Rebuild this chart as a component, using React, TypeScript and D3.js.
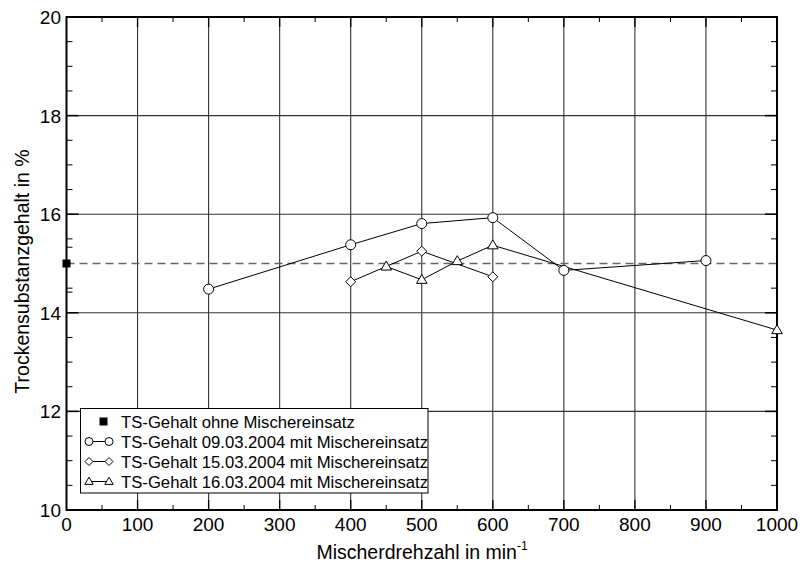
import React from "react";
import * as d3 from "d3";

const xTicks = [0, 100, 200, 300, 400, 500, 600, 700, 800, 900, 1000];
const yTicks = [10, 12, 14, 16, 18, 20];
const yMinor = [10.5, 11, 11.5, 12.5, 13, 13.5, 14.5, 15, 15.5, 16.5, 17, 17.5, 18.5, 19, 19.5];
const yExtraLeft = [15.33, 14.42];
const xMinor = [50, 150, 250, 350, 450, 550, 650, 750, 850, 950];

const refX = [0];
const refY = [15.0];
const s1X = [200, 400, 500, 600, 700, 900];
const s1Y = [14.48, 15.38, 15.81, 15.93, 14.86, 15.06];
const s2X = [400, 500, 600];
const s2Y = [14.63, 15.25, 14.73];
const s3X = [450, 500, 550, 600, 1000];
const s3Y = [14.94, 14.67, 15.05, 15.37, 13.65];

const legendLabels = [
  "TS-Gehalt ohne Mischereinsatz",
  "TS-Gehalt 09.03.2004 mit Mischereinsatz",
  "TS-Gehalt 15.03.2004 mit Mischereinsatz",
  "TS-Gehalt 16.03.2004 mit Mischereinsatz",
];

const FONT = "'Liberation Sans', Arial, Helvetica, sans-serif";

function Marker({ type, x, y, s }: { type: string; x: number; y: number; s: number }) {
  if (type === "circle") return <circle cx={x} cy={y} r={s} fill="#fff" stroke="#000" strokeWidth={1} />;
  if (type === "diamond")
    return (
      <path
        d={`M${x},${y - s}L${x + s},${y}L${x},${y + s}L${x - s},${y}Z`}
        fill="#fff"
        stroke="#000"
        strokeWidth={1}
      />
    );
  if (type === "triangle") {
    const h = s * 1.8;
    return (
      <path
        d={`M${x},${y - h * 0.6}L${x + s * 1.05},${y + h * 0.4}L${x - s * 1.05},${y + h * 0.4}Z`}
        fill="#fff"
        stroke="#000"
        strokeWidth={1}
      />
    );
  }
  return <rect x={x - s} y={y - s} width={2 * s} height={2 * s} fill="#000" />;
}

export default function App() {
  const x = d3.scaleLinear().domain([0, 1000]).range([66.5, 777]);
  const y = d3.scaleLinear().domain([10, 20]).range([510, 17]);
  const line = d3
    .line<[number, number]>()
    .x((d) => x(d[0]))
    .y((d) => y(d[1]));
  const zip = (a: number[], b: number[]) => a.map((v, i) => [v, b[i]] as [number, number]);
  const series = [
    { type: "circle", xs: s1X, ys: s1Y },
    { type: "diamond", xs: s2X, ys: s2Y },
    { type: "triangle", xs: s3X, ys: s3Y },
  ];
  const x0 = x(0), x1 = x(1000), y0 = y(10), y1 = y(20);
  const lgX = 80.5, lgY = 408.5, lgW = 347.5, lgH = 84.5;
  const rowY = (i: number) => 421.5 + i * 20;
  const lgTypes = ["square", "circle", "diamond", "triangle"];

  return (
    <svg
      width={800}
      height={562}
      style={{ position: "absolute", left: 0, top: 0, background: "#fff" }}
      fontFamily={FONT}
    >
      <rect x={0} y={0} width={800} height={562} fill="#fff" />
      {/* grid */}
      {xTicks.slice(1, -1).map((t) => (
        <line key={"gx" + t} x1={x(t)} x2={x(t)} y1={y1} y2={y0} stroke="#333" strokeWidth={1.1} />
      ))}
      {yTicks.slice(1, -1).map((t) => (
        <line key={"gy" + t} x1={x0} x2={x1} y1={y(t)} y2={y(t)} stroke="#333" strokeWidth={1.1} />
      ))}
      {/* minor ticks x */}
      {xMinor.map((t) => (
        <g key={"mx" + t}>
          <line x1={x(t)} x2={x(t)} y1={y0} y2={y0 - 5} stroke="#000" />
          <line x1={x(t)} x2={x(t)} y1={y1} y2={y1 + 5} stroke="#000" />
        </g>
      ))}
      {xTicks.slice(1, -1).map((t) => (
        <g key={"Mx" + t}>
          <line x1={x(t)} x2={x(t)} y1={y0} y2={y0 - 10} stroke="#000" strokeWidth={1.3} />
          <line x1={x(t)} x2={x(t)} y1={y1} y2={y1 + 10} stroke="#000" strokeWidth={1.3} />
        </g>
      ))}
      {/* minor ticks y */}
      {yMinor.map((t) => (
        <g key={"my" + t}>
          <line x1={x0} x2={x0 + 6} y1={y(t)} y2={y(t)} stroke="#000" />
          <line x1={x1} x2={x1 - 6} y1={y(t)} y2={y(t)} stroke="#000" />
        </g>
      ))}
      {yExtraLeft.map((t) => (
        <line key={"ey" + t} x1={x0} x2={x0 + 6} y1={y(t)} y2={y(t)} stroke="#000" />
      ))}
      {yTicks.slice(1, -1).map((t) => (
        <g key={"My" + t}>
          <line x1={x0} x2={x0 + 12} y1={y(t)} y2={y(t)} stroke="#000" strokeWidth={1.5} />
          <line x1={x1} x2={x1 - 12} y1={y(t)} y2={y(t)} stroke="#000" strokeWidth={1.5} />
        </g>
      ))}
      {/* reference dashed line */}
      <line
        x1={x0}
        x2={x1}
        y1={y(refY[0])}
        y2={y(refY[0])}
        stroke="#666"
        strokeWidth={1.6}
        strokeDasharray="8,5"
      />
      {/* series lines */}
      {series.map((s) => (
        <path key={"l" + s.type} d={line(zip(s.xs, s.ys)) || ""} fill="none" stroke="#000" strokeWidth={1} />
      ))}
      {/* frame */}
      <rect x={x0} y={y1} width={x1 - x0} height={y0 - y1} fill="none" stroke="#000" strokeWidth={2} />
      {/* markers */}
      {series.map((s) =>
        s.xs.map((v, i) => (
          <Marker key={s.type + i} type={s.type} x={x(v)} y={y(s.ys[i])} s={5} />
        ))
      )}
      {refX.map((v, i) => (
        <Marker key={"ref" + i} type="square" x={x(v)} y={y(refY[i])} s={4} />
      ))}
      {/* tick labels */}
      {xTicks.map((t) => (
        <text key={"tx" + t} x={x(t)} y={531} textAnchor="middle" fontSize={19} fill="#000">
          {t}
        </text>
      ))}
      {yTicks.map((t) => (
        <text key={"ty" + t} x={61} y={y(t) + 7} textAnchor="end" fontSize={19} fill="#000">
          {t}
        </text>
      ))}
      {/* axis titles */}
      <text x={422} y={559} textAnchor="middle" fontSize={19.5} fill="#000">
        Mischerdrehzahl in min
        <tspan fontSize={12} dy={-9}>-1</tspan>
      </text>
      <text
        transform={`translate(29,${(y0 + y1) / 2 + 8}) rotate(-90)`}
        textAnchor="middle"
        fontSize={19.5}
        fill="#000"
      >
        Trockensubstanzgehalt in %
      </text>
      {/* legend */}
      <rect x={lgX} y={lgY} width={lgW} height={lgH} fill="#fff" stroke="#000" strokeWidth={1} />
      {legendLabels.map((lab, i) => (
        <g key={"lg" + i}>
          {i === 0 ? (
            <Marker type="square" x={103.5} y={rowY(i)} s={4} />
          ) : (
            <g>
              <line x1={89} x2={109} y1={rowY(i)} y2={rowY(i)} stroke="#000" />
              <Marker type={lgTypes[i]} x={89} y={rowY(i)} s={4} />
              <Marker type={lgTypes[i]} x={109} y={rowY(i)} s={4} />
            </g>
          )}
          <text x={121} y={rowY(i) + 6} fontSize={16.7} fill="#000">
            {lab}
          </text>
        </g>
      ))}
    </svg>
  );
}
